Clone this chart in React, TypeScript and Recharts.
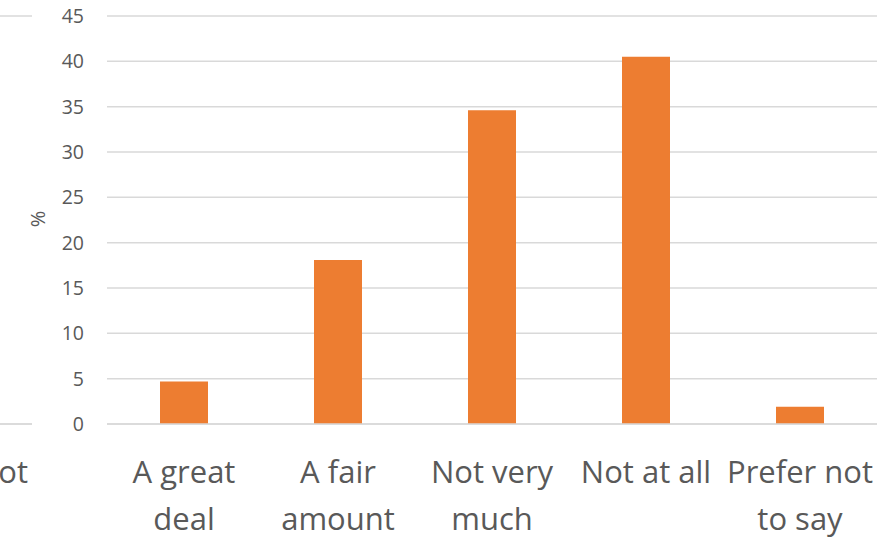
import React from "react";
import { BarChart, Bar, XAxis, YAxis, CartesianGrid } from "recharts";

const categories = ["A great deal", "A fair amount", "Not very much", "Not at all", "Prefer not to say"];
const tickLabels = [["A great", "deal"], ["A fair", "amount"], ["Not very", "much"], ["Not at all"], ["Prefer not", "to say"]];
const values = [4.7, 18.1, 34.6, 40.5, 1.9];
const yTicks = [0, 5, 10, 15, 20, 25, 30, 35, 40, 45];

const data = categories.map((c, i) => ({ name: c, value: values[i] }));

const FONT = "'Open Sans', 'Liberation Sans', sans-serif";
const TEXT = "#595959";
const GRID = "#d9d9d9";
const BAR = "#ED7D31";

const XTick = (props: any) => {
  const { x, y, payload, onlyLast } = props;
  const idx = categories.indexOf(payload.value);
  if (onlyLast && idx !== categories.length - 1) return <g />;
  const lines = idx >= 0 ? tickLabels[idx] : [String(payload.value)];
  const shown = onlyLast ? lines.slice(0, 1) : lines;
  return (
    <g>
      {shown.map((l, i) => (
        <text key={i} x={x} y={y + 59 + i * 47} textAnchor="middle" fill={TEXT} fontSize={31} fontFamily={FONT}>
          {l}
        </text>
      ))}
    </g>
  );
};

const PercentLabel = (props: any) => {
  const vb = props.viewBox || {};
  const x = (vb.x || 0) + 37;
  const y = (vb.y || 0) + (vb.height || 0) / 2 - 1;
  return (
    <text x={x} y={y} transform={`rotate(-90 ${x} ${y})`} textAnchor="middle" dominantBaseline="central" fill={TEXT} fontSize={20} fontFamily={FONT}>
      %
    </text>
  );
};

const Chart = ({ partial }: { partial?: boolean }) => (
  <BarChart width={886} height={538} data={data} margin={{ top: 16, right: 9, bottom: 0, left: 0 }}>
    <CartesianGrid vertical={false} stroke={GRID} strokeWidth={1.5} />
    <XAxis
      dataKey="name"
      height={114}
      axisLine={{ stroke: GRID, strokeWidth: 1.5 }}
      tickLine={false}
      tickSize={0}
      tickMargin={0}
      interval={0}
      tick={<XTick onlyLast={partial} />}
    />
    <YAxis
      width={107}
      domain={[0, 45]}
      ticks={yTicks}
      axisLine={false}
      tickLine={false}
      tickSize={0}
      tickMargin={23}
      tick={partial ? false : { fill: TEXT, fontSize: 19.5, fontFamily: FONT }}
      label={partial ? undefined : <PercentLabel />}
    />
    {partial ? null : <Bar dataKey="value" fill={BAR} barSize={48} isAnimationActive={false} />}
  </BarChart>
);

export default function App() {
  return (
    <div style={{ position: "absolute", left: 0, top: 0, width: 886, height: 538, overflow: "hidden", background: "#fff" }}>
      <div style={{ position: "absolute", left: -845, top: 0 }}>
        <Chart partial />
      </div>
      <div style={{ position: "absolute", left: 0, top: 0 }}>
        <Chart />
      </div>
    </div>
  );
}
